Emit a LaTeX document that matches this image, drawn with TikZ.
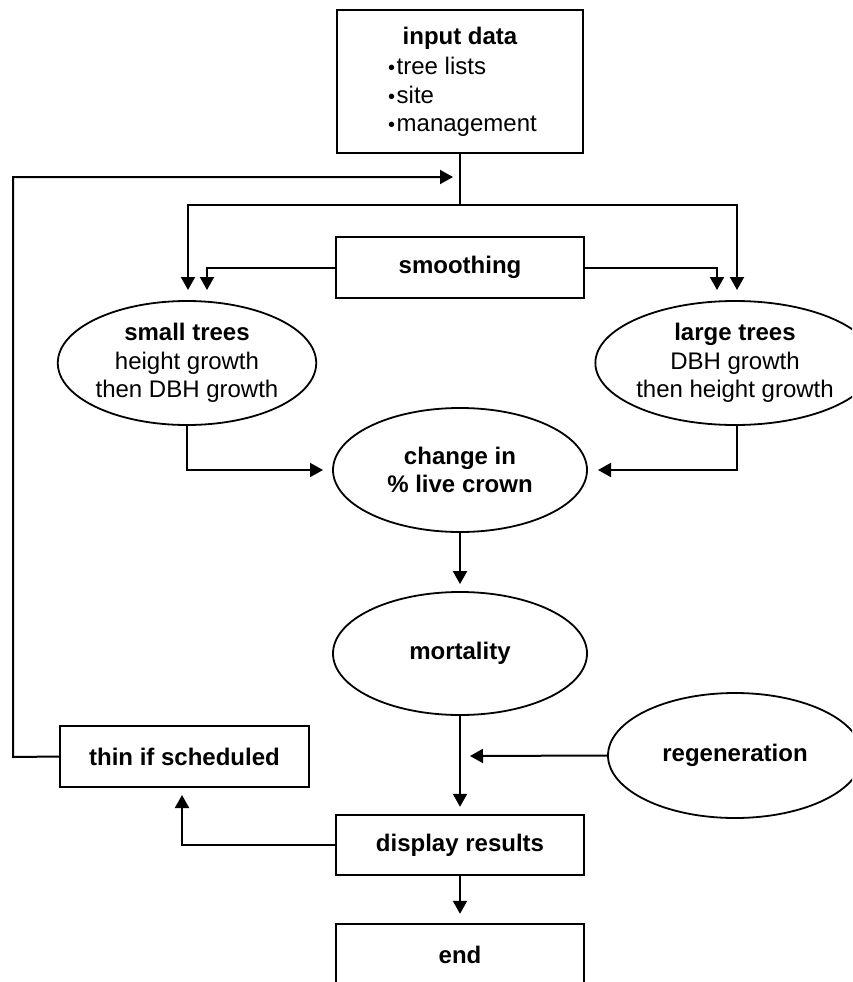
\documentclass[tikz,border=0pt]{standalone}
\usepackage{fontspec}
\setmainfont{Liberation Sans}
\usetikzlibrary{shapes.geometric,arrows.meta}
\newcommand{\bul}{{\fontsize{20}{20}\selectfont\textbullet}\hspace{1.5pt}}
\begin{document}
\begin{tikzpicture}[x=1pt,y=-1pt,
  every node/.style={font=\fontsize{24}{28.5}\selectfont, inner sep=0pt, align=center},
  stepbox/.style={draw, line width=2.4pt, font=\fontsize{24}{28.5}\selectfont\bfseries},
  oval/.style={draw, ellipse, line width=1.8pt},
  conn/.style={line width=2pt},
  arr/.style={line width=2pt, -{Triangle[length=13pt,width=14pt]}}]
\useasboundingbox (0,0) rectangle (852,982);
\clip (0,0) rectangle (852,982);

% boxes
\node[stepbox, minimum width=246pt, minimum height=143pt] (input) at (460,81.5) {};
\node[font=\fontsize{24}{28.5}\selectfont\bfseries] (title) at (460,38) {input data};
\node[anchor=west, align=left] (list) at (388,97) {\bul tree lists\\\bul site\\\bul management};
\node[stepbox, minimum width=248pt, minimum height=61pt] (smooth) at (460,267.5) {smoothing};
\node[stepbox, minimum width=249pt, minimum height=61pt] (thin) at (184.5,756.5) {thin if scheduled};
\node[stepbox, minimum width=248pt, minimum height=60pt] (disp) at (460,845) {display results};
\node[stepbox, minimum width=248pt, minimum height=62pt] (end) at (460,955) {end};

% ellipses
\node[oval, minimum width=254pt, minimum height=124pt] (small) at (187,363) {\textbf{small trees}\\height growth\\then DBH growth};
\node[oval, minimum width=254pt, minimum height=124pt] (large) at (735,363) {\textbf{large trees}\\DBH growth\\then height growth};
\node[oval, minimum width=254pt, minimum height=124pt] (change) at (460,470) {\textbf{change in}\\\textbf{\% live crown}};
\node[oval, minimum width=254pt, minimum height=123pt] (mort) at (460,653.5) {\textbf{mortality}};
\node[oval, minimum width=254pt, minimum height=125pt] (regen) at (735,755.5) {\textbf{regeneration}};

% coordinates
\coordinate (j) at (460,205);
\coordinate (tipS1) at (188,290);
\coordinate (tipS2) at (207,290);
\coordinate (tipL1) at (737,290);
\coordinate (tipL2) at (717,290);
\coordinate (tipCL) at (323,470);
\coordinate (tipCR) at (598,470);
\coordinate (tipR) at (470,756);
\coordinate (tipT) at (182,795);
\coordinate (c1) at (13,757);
\coordinate (c2) at (13,177);
\coordinate (tipI) at (453,177);

% connectors
\draw[conn] (input.south) -- (j);
\draw[arr] (j) -| (tipS1);
\draw[arr] (j) -| (tipL1);
\draw[arr] (smooth.west) -| (tipS2);
\draw[arr] (smooth.east) -| (tipL2);
\draw[arr] (small.south) |- (tipCL);
\draw[arr] ([xshift=2pt]large.south) |- (tipCR);
\draw[arr, shorten >=7pt] (change.south) -- (mort.north);
\draw[arr, shorten >=7pt] (mort.south) -- (disp.north);
\draw[arr] (regen.west) -- (tipR);
\draw[arr] (disp.west) -| (tipT);
\draw[arr, shorten >=9pt] (disp.south) -- (end.north);
\draw[arr] (thin.west) -- (c1) -- (c2) -- (tipI);
\end{tikzpicture}
\end{document}
